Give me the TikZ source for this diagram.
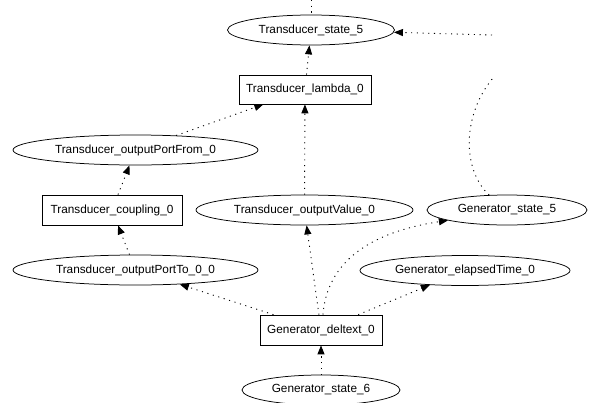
\documentclass[tikz,border=0pt]{standalone}
\usepackage{fontspec}
\setmainfont{Liberation Sans}
\usetikzlibrary{shapes.geometric,arrows.meta}
\begin{document}
\begin{tikzpicture}[x=1pt,y=-1pt,
		every node/.style={font=\fontsize{11.8}{14}\selectfont, inner sep=0pt, line width=0.75pt},
		ell/.style={draw, ellipse, minimum height=30pt},
		box/.style={draw, rectangle, minimum height=30pt},
		link/.style={dash pattern=on 1.1pt off 4.6pt, line width=0.9pt},
		arr/.style={link, -{Triangle[length=9pt,width=7pt]}}]
			\clip (0,0) rectangle (589,402);
			\node[ell, minimum width=167pt] (st5) at (311,30) {Transducer\_state\_5};
			\node[box, minimum width=132pt, minimum height=29pt] (lambda) at (305,89.5) {Transducer\_lambda\_0};
			\node[ell, minimum width=245pt] (pfrom) at (135.5,150) {Transducer\_outputPortFrom\_0};
			\node[box, minimum width=140pt] (coupling) at (112,210) {Transducer\_coupling\_0};
			\node[ell, minimum width=217pt] (outval) at (304.5,210) {Transducer\_outputValue\_0};
			\node[ell, minimum width=160pt] (gstate5) at (507,210) {Generator\_state\_5};
			\node[ell, minimum width=245pt] (pto) at (135.5,270) {Transducer\_outputPortTo\_0\_0};
			\node[ell, minimum width=210pt] (elapsed) at (465,270.5) {Generator\_elapsedTime\_0};
			\node[box, minimum width=122pt] (deltext) at (321,330) {Generator\_deltext\_0};
			\node[ell, minimum width=158pt] (gstate6) at (321,390) {Generator\_state\_6};
			\coordinate (topend) at (311,0);
			\coordinate (rightend) at (492,35);
			\coordinate (curveend) at (493,78);
			\draw[link] (topend) -- (st5);
			\draw[arr] (rightend) -- (st5);
			\draw[arr] (lambda) -- (st5);
			\draw[arr] (pfrom) -- (lambda);
			\draw[arr] (outval) -- (lambda);
			\draw[arr] (coupling) -- (pfrom);
			\draw[arr] (pto) -- (coupling);
			\draw[link] (gstate5.140) .. controls (462,170) and (462,115) .. (curveend);
			\draw[arr] (deltext) -- (pto);
			\draw[arr] (deltext) -- (outval);
			\draw[arr] ([xshift=2pt]deltext.north) .. controls (327,262) and (370,232) .. (gstate5.190);
			\draw[arr] (deltext) -- (elapsed);
			\draw[arr] (gstate6) -- (deltext);
		\end{tikzpicture}
\end{document}
